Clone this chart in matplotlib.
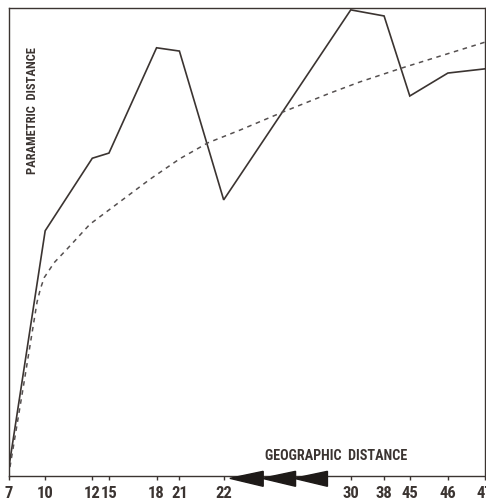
import numpy as np
import matplotlib
matplotlib.use('Agg')
import matplotlib.pyplot as plt
from matplotlib import font_manager

# site labels along the geographic axis and their positions (0-100 scale)
site_labels = ['7', '10', '12', '15', '18', '21', '22', '30', '38', '45', '46', '47']
geo_pos = [0, 7.6, 17.5, 21.0, 31.0, 35.8, 45.1, 71.8, 78.8, 84.2, 92.2, 100]
# parametric distance for each site (0-100 scale)
param_dist = [2.0, 52.4, 67.9, 69.0, 91.5, 90.8, 59.0, 99.6, 98.3, 81.2, 86.1, 87.0]

# dashed trend curve
trend_x = [0.2, 3.0, 5.9, 6.6, 7.4, 9.5, 12.2, 17.0, 21.2, 29.6, 35.9, 41.8,
           48.5, 57.6, 67.4, 73.7, 82.6, 90.5, 100]
trend_y = [1.9, 19.0, 37.2, 40.0, 42.4, 45.6, 48.5, 53.8, 57.0, 63.4, 67.8,
           71.2, 73.9, 77.8, 81.8, 84.2, 87.2, 89.7, 92.7]

ink = '#3b3431'

# pick a condensed face if one is installed
names = {f.name for f in font_manager.fontManager.ttflist}
narrow = [n for n in ['Liberation Sans Narrow', 'DejaVu Sans Condensed',
                      'Roboto Condensed', 'Open Sans Condensed',
                      'Noto Sans Condensed'] if n in names]
condensed = bool(narrow)
narrow = narrow + ['DejaVu Sans']
tick_size = 12 if condensed else 10.5

fig = plt.figure(figsize=(4.86, 5.03), dpi=100)
ax = fig.add_axes([9 / 486, 27 / 503, 476 / 486, 468 / 503])

ax.plot(geo_pos, param_dist, '-', color=ink, lw=1.2, solid_joinstyle='miter')
ax.plot(trend_x, trend_y, '--', color='#555050', lw=1.1, dashes=(3, 3))

ax.set_xlim(0, 100)
ax.set_ylim(0, 100)

ax.set_xticks(geo_pos)
ax.set_xticklabels(site_labels, fontfamily=narrow, fontweight='bold',
                   fontstretch='condensed', fontsize=tick_size, color=ink)
ax.tick_params(axis='x', direction='out', length=3, width=1, color=ink, pad=4)
ax.set_yticks([])

for s in ax.spines.values():
    s.set_color(ink)
    s.set_linewidth(1.0)

# arrow heads on the axis pointing back to the origin
for tip in [46.4, 53.2, 59.9]:
    ax.fill([tip, tip + 7.0, tip + 7.0], [-0.5, 1.0, -2.2], color='#1e1a18',
            clip_on=False, zorder=5)

ax.text(0.687, 0.043, 'GEOGRAPHIC  DISTANCE', transform=ax.transAxes,
        ha='center', va='center', fontfamily=narrow, fontweight='bold',
        fontstretch='condensed', fontsize=10.2 if condensed else 8.2, color=ink)
ax.text(0.05, 0.78, 'PARAMETRIC  DISTANCE', transform=ax.transAxes,
        ha='center', va='center', rotation=90, fontfamily=narrow,
        fontweight='bold', fontstretch='condensed',
        fontsize=9 if condensed else 7.5, color=ink)

fig.savefig('out.png', dpi=100)
